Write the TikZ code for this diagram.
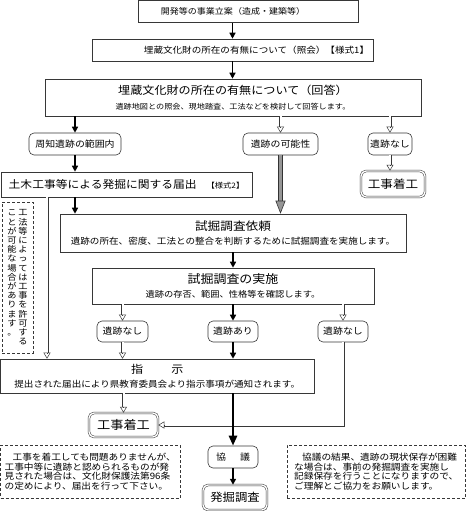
\documentclass[tikz,border=0pt]{standalone}
\usepackage{fontspec}
\setmainfont{Noto Sans CJK JP}[FakeStretch=1.1]
\usepackage{tikz}
\usetikzlibrary{arrows.meta,calc}
\definecolor{framegray}{RGB}{55,55,55}
\definecolor{shaftgray}{RGB}{150,150,150}
\newcommand{\sz}[1]{\fontsize{#1}{#1}\selectfont}
\makeatletter
\newcommand{\tatecol}[1]{\vtop{\baselineskip=9.2pt \@tfor\tc:=#1\do{\hbox to 9.4pt{\hss\tc\hss}}}}
\makeatother

\begin{document}
\begin{tikzpicture}[x=1pt, y=-1pt,
    box/.style={draw=framegray, line width=.6pt, align=center, inner sep=2pt},
    state/.style={draw=framegray, line width=.6pt, rounded corners=5pt, inner sep=1pt, font=\sz{9}},
    goal/.style={draw=framegray, double=white, double distance=1.4pt, line width=.5pt, rounded corners=5pt, inner sep=1pt},
    note/.style={draw=framegray, dash pattern=on 3pt off 2pt, line width=.5pt, align=left, inner sep=3pt},
    flow/.style={line width=1.5pt, -{Triangle[length=6pt,width=6pt]}},
    bigflow/.style={line width=2.5pt, -{Triangle[length=10pt,width=8pt]}},
    hollowshaft/.style={draw=framegray, double=white, double distance=2pt, line width=.5pt, shorten >=6pt},
    hollowhead/.style={draw=framegray, line width=.5pt, -{Triangle[open,length=6pt,width=7pt]}},
    grayshaft/.style={draw=gray!40!black, double=shaftgray, double distance=3.5pt, line width=.6pt, shorten >=12pt},
    grayhead/.style={draw=gray!40!black, line width=.6pt, -{Triangle[length=13pt,width=10pt,fill=shaftgray]}}]
  \useasboundingbox (0,0) rectangle (466,511);

  % top of the flow
  \node[box, minimum width=220, minimum height=22, font=\sz{8.2}] (plan) at (248,11.5)
    {開発等の事業立案（造成・建築等）\hspace*{30pt}};
  \node[box, minimum width=281, minimum height=22, font=\sz{8.7}] (shokai) at (232.5,50)
    {\hspace*{48pt}埋蔵文化財の所在の有無について（照会）【様式1】};
  \node[box, minimum width=376, minimum height=37] (kaito) at (233,97.5)
    {{\sz{11}埋蔵文化財の所在の有無について（回答）}\\[3pt]
     {\sz{7.4}遺跡地図との照会、現地踏査、工法などを検討して回答します。}};

  % three answers
  \node[state, minimum width=92, minimum height=22] (shuchi) at (75,144) {周知遺跡の範囲内};
  \node[state, minimum width=75, minimum height=22] (kanou) at (280.5,144) {遺跡の可能性};
  \node[state, minimum width=44, minimum height=22] (nashiA) at (390,144) {遺跡なし};
  \node[box, minimum width=251, minimum height=25] (todoke) at (126.5,184.5)
    {{\sz{10.7}土木工事等による発掘に関する届出}\hspace{10pt}{\sz{7.5}【様式2】}};
  \node[goal, minimum width=64, minimum height=26, font=\sz{11.4}] (kojiA) at (393,184) {工事着工};

  % trial dig
  \node[box, minimum width=346, minimum height=38] (irai) at (233,233)
    {{\sz{11.5}試掘調査依頼}\\[2pt]
     {\sz{8.7}遺跡の所在、密度、工法との整合を判断するために試掘調査を実施します。}};
  \node[note, minimum width=31, minimum height=151, inner sep=0pt] (tate) at (17.5,277.5)
    {\sz{8.4}\tatecol{ことが可能な場合があります。}\hspace{1.6pt}\tatecol{工法等によっては工事を許可する}};
  \node[box, minimum width=282, minimum height=36] (jisshi) at (233,286)
    {{\sz{11.8}試掘調査の実施}\\[2pt]
     {\sz{8.4}遺跡の存否、範囲、性格等を確認します。}};
  \node[state, minimum width=51, minimum height=21] (nashiB) at (122.5,331.5) {遺跡なし};
  \node[state, minimum width=50, minimum height=21] (ari) at (233,331.5) {遺跡あり};
  \node[state, minimum width=50, minimum height=21] (nashiC) at (343,331.5) {遺跡なし};

  % instruction and results
  \node[box, minimum width=313.5, minimum height=34] (shiji) at (157.25,376)
    {{\sz{11}指\hspace{28pt}示}\\[2pt]
     {\sz{8.7}提出された届出により県教育委員会より指示事項が通知されます。}};
  \node[goal, minimum width=69, minimum height=24, font=\sz{12}] (kojiB) at (123.5,425) {工事着工};
  \node[state, minimum width=50, minimum height=22] (kyougi) at (233,457) {協\hspace{14pt}議};
  \node[goal, minimum width=64, minimum height=25, font=\sz{11.2}] (hakkutsu) at (235,497.5) {発掘調査};
  \node[note, minimum width=179.5, minimum height=53, font=\fontsize{8.8}{9.7}\selectfont] (noteL) at (90.25,471.5)
    {\hspace*{8pt}工事を着工しても問題ありませんが、\\
     工事中等に遺跡と認められるものが発\\
     見された場合は、文化財保護法第96条\\
     の定めにより、届出を行って下さい。};
  \node[note, minimum width=178.5, minimum height=53, font=\fontsize{8.8}{9.7}\selectfont] (noteR) at (376.25,471.5)
    {\hspace*{8pt}協議の結果、遺跡の現状保存が困難\\
     な場合は、事前の発掘調査を実施し\\
     記録保存を行うことになりますので、\\
     ご理解とご協力をお願いします。};
  \coordinate (bypass) at (47,0);

  % connectors
  \draw[flow] (plan.south -| shokai) -- (shokai.north);
  \draw[flow] (shokai.south) -- (shokai.south |- kaito.north);
  \draw[flow] (kaito.south -| shuchi) -- (shuchi.north);
  \draw[hollowshaft] (kaito.south -| kanou) -- (kanou.north);
  \draw[hollowhead] ($(kanou.north)+(0,-6)$) -- (kanou.north);
  \draw[hollowshaft] (kaito.south -| nashiA) -- (nashiA.north);
  \draw[hollowhead] ($(nashiA.north)+(0,-6)$) -- (nashiA.north);
  \draw[flow] (shuchi.south) -- (shuchi.south |- todoke.north);
  \draw[hollowshaft] (nashiA.south) -- (nashiA.south |- kojiA.north);
  \draw[hollowhead] ($(nashiA.south |- kojiA.north)+(0,-6)$) -- (nashiA.south |- kojiA.north);
  \draw[grayshaft] (kanou.south) -- (kanou.south |- irai.north);
  \draw[grayhead] ($(kanou.south |- irai.north)+(0,-13)$) -- (kanou.south |- irai.north);
  \draw[flow] (todoke.south -| shuchi) -- (irai.north -| shuchi);
  \draw[hollowshaft] (todoke.south -| bypass) -- (shiji.north -| bypass);
  \draw[hollowhead] ($(shiji.north -| bypass)+(0,-6)$) -- (shiji.north -| bypass);
  \draw[flow] (irai.south) -- (jisshi.north);
  \draw[hollowshaft] (jisshi.south -| nashiB) -- (nashiB.north);
  \draw[hollowhead] ($(nashiB.north)+(0,-6)$) -- (nashiB.north);
  \draw[flow] (jisshi.south) -- (ari.north);
  \draw[hollowshaft] (jisshi.south -| nashiC) -- (nashiC.north);
  \draw[hollowhead] ($(nashiC.north)+(0,-6)$) -- (nashiC.north);
  \draw[hollowshaft] (nashiB.south) -- (nashiB.south |- shiji.north);
  \draw[hollowhead] ($(nashiB.south |- shiji.north)+(0,-6)$) -- (nashiB.south |- shiji.north);
  \draw[flow] (ari.south) -- (ari.south |- shiji.north);
  \draw[hollowshaft] (nashiC.south) |- (kojiB.east);
  \draw[hollowhead] ($(kojiB.east)+(6,0)$) -- (kojiB.east);
  \draw[hollowshaft] (shiji.south -| kojiB) -- (kojiB.north);
  \draw[hollowhead] ($(kojiB.north)+(0,-6)$) -- (kojiB.north);
  \draw[bigflow] (shiji.south -| kyougi) -- (kyougi.north);
  \draw[flow] (kyougi.south) -- (kyougi.south |- hakkutsu.north);
\end{tikzpicture}
\end{document}
